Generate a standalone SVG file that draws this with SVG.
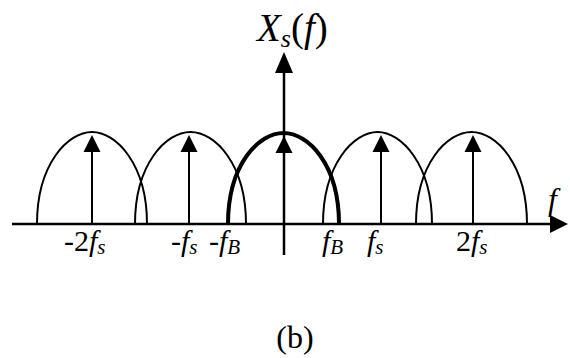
<svg xmlns="http://www.w3.org/2000/svg" width="570" height="358" viewBox="0 0 570 358">
<defs>
<style>
.arch{fill:none;stroke:#000;stroke-width:2}
.thick{fill:none;stroke:#000;stroke-width:4}
.ax{stroke:#000;stroke-width:2.5;fill:none}
.imp{stroke:#000;stroke-width:2;fill:none}
.head{fill:#000}
text{font-family:"Liberation Serif","Times New Roman",serif;fill:#000}
.lab{font-size:30px}
.it{font-style:italic}
</style>
</defs>
<rect width="570" height="358" fill="#fff"/>
<g id="connectors">
<line class="ax" x1="12" y1="224" x2="552" y2="224"/>
<polygon class="head" points="568,224 550,215 550,233"/>
<line class="ax" x1="284" y1="255" x2="284" y2="70"/>
<polygon class="head" points="284,52 275,73 293,73"/>
</g>
<g id="arch-m2"><path class="arch" d="M37 224 C37 164 68 132 92 132 C116 132 147 164 147 224"/></g>
<g id="arch-m1"><path class="arch" d="M135 224 C135 164 166 132 190.5 132 C215 132 246 164 246 224"/></g>
<g id="arch-0"><path class="thick" d="M228 224 C228 164 259 133 283.5 133 C308 133 339 164 339 224"/></g>
<g id="arch-p1"><path class="arch" d="M323 224 C323 164 354 132 377.5 132 C401 132 432 164 432 224"/></g>
<g id="arch-p2"><path class="arch" d="M416 224 C416 164 447 132 471.5 132 C496 132 527 164 527 224"/></g>
<g id="impulses">
<line class="imp" x1="92" y1="224" x2="92" y2="150"/><polygon class="head" points="92,135 83.5,152 100.5,152"/>
<line class="imp" x1="189" y1="224" x2="189" y2="150"/><polygon class="head" points="189,135 180.5,152 197.5,152"/>
<polygon class="head" points="284,136 275.5,153 292.5,153"/>
<line class="imp" x1="381" y1="224" x2="381" y2="150"/><polygon class="head" points="381,135 372.5,152 389.5,152"/>
<line class="imp" x1="473" y1="224" x2="473" y2="150"/><polygon class="head" points="473,135 464.5,152 481.5,152"/>
</g>
<g id="labels" font-family="Liberation Serif, Times New Roman, serif">
<text x="257" y="41" style="font-size:39px"><tspan class="it">X</tspan><tspan class="it" font-size="26" dy="6">s</tspan><tspan dy="-6">(</tspan><tspan class="it">f</tspan>)</text>
<text x="548" y="210" class="it" style="font-size:32px">f</text>
<text x="64" y="251" class="lab">-2<tspan class="it">f</tspan><tspan class="it" font-size="21" dy="3">s</tspan></text>
<text x="171" y="251" class="lab">-<tspan class="it">f</tspan><tspan class="it" font-size="21" dy="3">s</tspan></text>
<text x="209" y="251" class="lab">-<tspan class="it">f</tspan><tspan class="it" font-size="21" dy="3">B</tspan></text>
<text x="322" y="251" class="lab"><tspan class="it">f</tspan><tspan class="it" font-size="21" dy="3">B</tspan></text>
<text x="367" y="251" class="lab"><tspan class="it">f</tspan><tspan class="it" font-size="21" dy="3">s</tspan></text>
<text x="456" y="251" class="lab">2<tspan class="it">f</tspan><tspan class="it" font-size="21" dy="3">s</tspan></text>
<text x="295" y="348" text-anchor="middle" style="font-size:32px">(b)</text>
</g>
</svg>
